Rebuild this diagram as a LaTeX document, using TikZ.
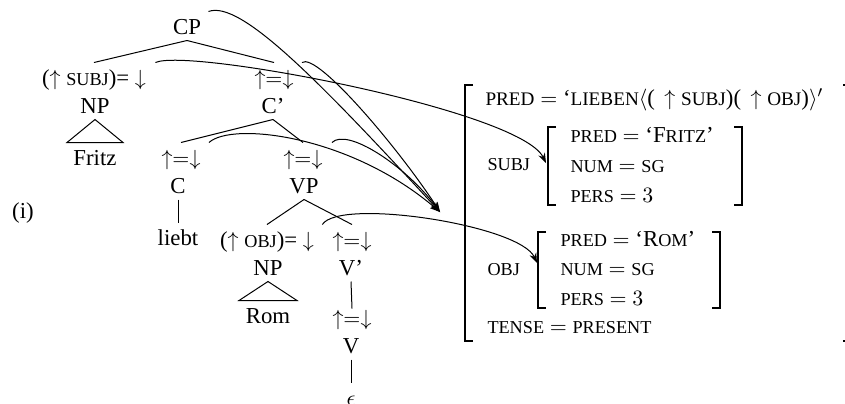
\documentclass[tikz,border=0pt]{standalone}
\usepackage{fontspec}
\setmainfont{Liberation Serif}
\usetikzlibrary{arrows.meta}
\newcommand\sca[1]{{\fontsize{9.1}{11}\selectfont #1}}
\newcommand\scb[1]{{\fontsize{9.6}{11}\selectfont #1}}
\newcommand\ud{${\uparrow}{=}{\downarrow}$}
\begin{document}
\begin{tikzpicture}[x=0.5pt,y=-0.5pt,line width=0.5pt,
  tn/.style={inner sep=0pt,text height=11pt,text depth=3pt,anchor=base,font=\fontsize{11.4}{13.7}\selectfont},
  fs/.style={inner sep=0pt,anchor=base west,font=\fontsize{11.4}{13.7}\selectfont},
  link/.style={-{Stealth[length=5pt,width=3.6pt]},line width=0.5pt},
  brk/.style={line width=0.7pt}]
\useasboundingbox (0,0) rectangle (845,403);
% c-structure
\node[tn] (ex) at (23,218) {(i)};
\node[tn] (CP) at (187,34) {CP};
\node[tn] (a1) at (94,85) {($\uparrow$ \sca{SUBJ})= $\downarrow$};
\node[tn] (a2) at (274,85) {\ud};
\node[tn] (NP1) at (95,113) {NP};
\node[tn] (C1) at (273,113) {C'};
\node[tn] (Fritz) at (95,165) {Fritz};
\node[tn] (a3) at (181,165) {\ud};
\node[tn] (a4) at (303,165) {\ud};
\node[tn] (C) at (178,193) {C};
\node[tn] (VP) at (304,193) {VP};
\node[tn] (liebt) at (178,245) {liebt};
\node[tn] (a5) at (267,247) {($\uparrow$ \sca{OBJ})= $\downarrow$};
\node[tn] (a6) at (352,247) {\ud};
\node[tn] (NP2) at (268,275) {NP};
\node[tn] (V1) at (351,275) {V'};
\node[tn] (Rom) at (268,323) {Rom};
\node[tn] (a7) at (352,325) {\ud};
\node[tn] (V) at (351,353) {V};
\node[tn] (eps) at (351,405) {$\epsilon$};
\draw (CP.south) -- (a1.north);
\draw (CP.south) -- (a2.north);
\draw (NP1.south) -- ([xshift=-14pt]Fritz.north) -- ([xshift=14pt]Fritz.north) -- cycle;
\draw (C1.south) -- (a3.north);
\draw (C1.south) -- (a4.north);
\draw (C.south) -- (liebt.north);
\draw (VP.south) -- (a5.north);
\draw (VP.south) -- (a6.north);
\draw (NP2.south) -- ([xshift=-14.5pt]Rom.north) -- ([xshift=14.5pt]Rom.north) -- cycle;
\draw (V1.south) -- ([yshift=-3pt]a7.north);
\draw (V.south) -- (eps.north);
% f-structure
\node[fs] (fpred) at (485,105) {\scb{PRED} $=$ `\scb{LIEBEN}$\langle$(\, $\uparrow$ \scb{SUBJ})(\, $\uparrow$ \scb{OBJ})$\rangle'$};
\node[fs] (fsubjl) at (487,170) {\sca{SUBJ}};
\node[fs] (sp) at (570,142) {\sca{PRED} $=$ `F\sca{RITZ}'};
\node[fs] (sn) at (570,172) {\sca{NUM} $=$ \sca{SG}};
\node[fs] (spe) at (570,202) {\sca{PERS} $=$ $3$};
\node[fs] (fobjl) at (487,275) {\sca{OBJ}};
\node[fs] (op) at (560,246) {\sca{PRED} $=$ `R\sca{OM}'};
\node[fs] (on) at (560,275) {\sca{NUM} $=$ \sca{SG}};
\node[fs] (ope) at (560,305) {\sca{PERS} $=$ $3$};
\node[fs] (ft) at (487,333) {\sca{TENSE} $=$ \sca{PRESENT}};
\draw[brk] (473,85) -- (465,85) -- (465,341) -- (473,341);
\draw[brk] (843,85) -- (851,85) -- (851,341) -- (843,341);
\draw[brk] (556,127) -- (548,127) -- (548,205) -- (556,205);
\draw[brk] (734,127) -- (742,127) -- (742,205) -- (734,205);
\draw[brk] (546,232) -- (538,232) -- (538,308) -- (546,308);
\draw[brk] (712,232) -- (720,232) -- (720,308) -- (712,308);
\coordinate (fmain) at (440,212);
\coordinate (fsubj) at (546,163);
\coordinate (fobj) at (537,263);
% links
\draw[link] ([xshift=3.5pt]CP.north east) .. controls +(32,-12) and +(-120,-130) .. (fmain);
\draw[link] ([xshift=4pt]a2.north east) .. controls +(15,-11) and +(-40,-62) .. (fmain);
\draw[link] ([xshift=4pt]a3.north east) .. controls +(23,-21) and +(-90,-77) .. (fmain);
\draw[link] ([xshift=4.5pt]a4.north east) .. controls +(15,-15) and +(-35,-47) .. (fmain);
\draw[link] ([xshift=4.5pt]a1.north east) .. controls +(33,-15) and +(-26,-53) .. (fsubj);
\draw[link] ([xshift=4pt]a5.north east) .. controls +(17,-27) and +(-17,-38) .. (fobj);
\end{tikzpicture}
\end{document}
